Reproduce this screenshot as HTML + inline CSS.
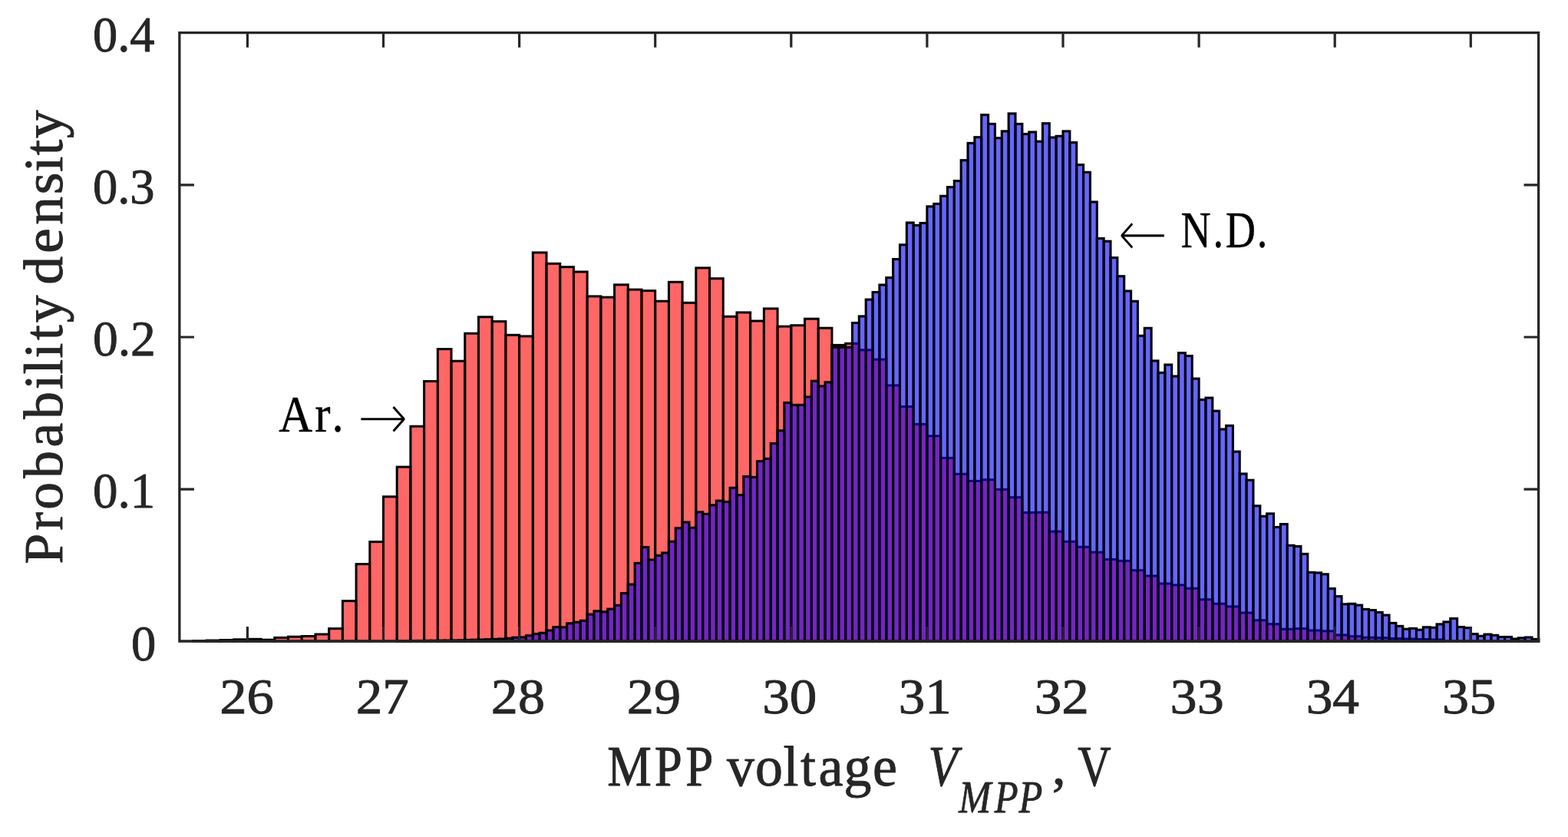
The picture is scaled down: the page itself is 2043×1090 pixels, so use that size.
<!DOCTYPE html>
<html lang="en"><head><meta charset="utf-8"><title>MPP voltage probability density histogram</title>
<style>
html,body{margin:0;padding:0;background:#fff;}
body{width:2043px;height:1090px;overflow:hidden;}
svg{display:block;}
text{font-family:"Liberation Serif",serif;stroke-linejoin:round;}
.tk,.lb,.sb{fill:#262626;stroke:#262626;}
.tk{stroke-width:0.9px;}.lb{stroke-width:0.9px;}.sb{stroke-width:0.8px;font-style:italic;}
.an{fill:#000;stroke:#000;stroke-width:0.5px;}
.ar{font-family:"DejaVu Sans",sans-serif;fill:#000;stroke:#fff;stroke-width:4.9px;stroke-linejoin:miter;}
.r rect{fill:#f00;fill-opacity:.6;stroke:#000;stroke-width:3.0;}
.b rect{fill:#00f;fill-opacity:.6;stroke:#000;stroke-width:3.1;}
.ax{fill:none;stroke:#262626;stroke-width:3.3;}
.tick{fill:none;stroke:#262626;stroke-width:3.2;}
</style></head><body>
<svg width="2043" height="1090" viewBox="0 0 2043 1090" role="img" aria-label="Histogram of MPP voltage probability density">
<rect x="0" y="0" width="2043" height="1090" fill="#fff"/>
<!-- Ar. histogram (red), bin width 0.1 V -->
<g class="r">
<rect x="251.56" y="834.5" width="17.71" height="0.5"/>
<rect x="269.27" y="834" width="17.71" height="1"/>
<rect x="286.98" y="833.5" width="17.71" height="1.5"/>
<rect x="304.69" y="832.8" width="17.71" height="2.2"/>
<rect x="322.4" y="832.3" width="17.71" height="2.7"/>
<rect x="340.11" y="833.2" width="17.71" height="1.8"/>
<rect x="357.82" y="830.4" width="17.71" height="4.6"/>
<rect x="375.53" y="829.2" width="17.71" height="5.8"/>
<rect x="393.24" y="828.5" width="17.71" height="6.5"/>
<rect x="410.95" y="826" width="17.71" height="9"/>
<rect x="428.66" y="818.6" width="17.71" height="16.4"/>
<rect x="446.37" y="782.6" width="17.71" height="52.4"/>
<rect x="464.08" y="734.6" width="17.71" height="100.4"/>
<rect x="481.79" y="705.6" width="17.71" height="129.4"/>
<rect x="499.5" y="646.8" width="17.71" height="188.2"/>
<rect x="517.21" y="608.1" width="17.71" height="226.9"/>
<rect x="534.92" y="555.2" width="17.71" height="279.8"/>
<rect x="552.63" y="496.5" width="17.71" height="338.5"/>
<rect x="570.34" y="454.6" width="17.71" height="380.4"/>
<rect x="588.05" y="470.2" width="17.71" height="364.8"/>
<rect x="605.76" y="434.2" width="17.71" height="400.8"/>
<rect x="623.47" y="412.8" width="17.71" height="422.2"/>
<rect x="641.18" y="418.6" width="17.71" height="416.4"/>
<rect x="658.89" y="436.3" width="17.71" height="398.7"/>
<rect x="676.6" y="437.9" width="17.71" height="397.1"/>
<rect x="694.31" y="328.9" width="17.71" height="506.1"/>
<rect x="712.02" y="343.3" width="17.71" height="491.7"/>
<rect x="729.73" y="347.7" width="17.71" height="487.3"/>
<rect x="747.44" y="354" width="17.71" height="481"/>
<rect x="765.15" y="385.9" width="17.71" height="449.1"/>
<rect x="782.86" y="387.1" width="17.71" height="447.9"/>
<rect x="800.57" y="370.8" width="17.71" height="464.2"/>
<rect x="818.28" y="377.1" width="17.71" height="457.9"/>
<rect x="835.99" y="378.6" width="17.71" height="456.4"/>
<rect x="853.7" y="392.2" width="17.71" height="442.8"/>
<rect x="871.41" y="367.3" width="17.71" height="467.7"/>
<rect x="889.12" y="394.3" width="17.71" height="440.7"/>
<rect x="906.83" y="348.9" width="17.71" height="486.1"/>
<rect x="924.54" y="362.7" width="17.71" height="472.3"/>
<rect x="942.25" y="412.2" width="17.71" height="422.8"/>
<rect x="959.96" y="406.9" width="17.71" height="428.1"/>
<rect x="977.67" y="418" width="17.71" height="417"/>
<rect x="995.38" y="401.9" width="17.71" height="433.1"/>
<rect x="1013.09" y="425.1" width="17.71" height="409.9"/>
<rect x="1030.8" y="423.7" width="17.71" height="411.3"/>
<rect x="1048.51" y="415.2" width="17.71" height="419.8"/>
<rect x="1066.22" y="427.2" width="17.71" height="407.8"/>
<rect x="1083.93" y="449.4" width="17.71" height="385.6"/>
<rect x="1101.64" y="447.3" width="17.71" height="387.7"/>
<rect x="1119.35" y="455.8" width="17.71" height="379.2"/>
<rect x="1137.06" y="468.1" width="17.71" height="366.9"/>
<rect x="1154.77" y="501.9" width="17.71" height="333.1"/>
<rect x="1172.48" y="529.5" width="17.71" height="305.5"/>
<rect x="1190.19" y="552.4" width="17.71" height="282.6"/>
<rect x="1207.9" y="567.8" width="17.71" height="267.2"/>
<rect x="1225.61" y="596.4" width="17.71" height="238.6"/>
<rect x="1243.32" y="617.3" width="17.71" height="217.7"/>
<rect x="1261.03" y="626.4" width="17.71" height="208.6"/>
<rect x="1278.74" y="624.7" width="17.71" height="210.3"/>
<rect x="1296.45" y="637.4" width="17.71" height="197.6"/>
<rect x="1314.16" y="647.7" width="17.71" height="187.3"/>
<rect x="1331.87" y="667.5" width="17.71" height="167.5"/>
<rect x="1349.58" y="667.3" width="17.71" height="167.7"/>
<rect x="1367.29" y="692.1" width="17.71" height="142.9"/>
<rect x="1385" y="705.3" width="17.71" height="129.7"/>
<rect x="1402.71" y="712.3" width="17.71" height="122.7"/>
<rect x="1420.42" y="719.2" width="17.71" height="115.8"/>
<rect x="1438.13" y="728.5" width="17.71" height="106.5"/>
<rect x="1455.84" y="730.4" width="17.71" height="104.6"/>
<rect x="1473.55" y="742.7" width="17.71" height="92.3"/>
<rect x="1491.26" y="750" width="17.71" height="85"/>
<rect x="1508.97" y="760" width="17.71" height="75"/>
<rect x="1526.68" y="761.9" width="17.71" height="73.1"/>
<rect x="1544.39" y="766.3" width="17.71" height="68.7"/>
<rect x="1562.1" y="780.7" width="17.71" height="54.3"/>
<rect x="1579.81" y="786.2" width="17.71" height="48.8"/>
<rect x="1597.52" y="789.9" width="17.71" height="45.1"/>
<rect x="1615.23" y="798" width="17.71" height="37"/>
<rect x="1632.94" y="807.8" width="17.71" height="27.2"/>
<rect x="1650.65" y="812.7" width="17.71" height="22.3"/>
<rect x="1668.36" y="819.3" width="17.71" height="15.7"/>
<rect x="1686.07" y="818.6" width="17.71" height="16.4"/>
<rect x="1703.78" y="821" width="17.71" height="14"/>
<rect x="1721.49" y="821.8" width="17.71" height="13.2"/>
<rect x="1739.2" y="826.9" width="17.71" height="8.1"/>
<rect x="1756.91" y="828.7" width="17.71" height="6.3"/>
<rect x="1774.62" y="830.2" width="17.71" height="4.8"/>
<rect x="1792.33" y="830.6" width="17.71" height="4.4"/>
<rect x="1810.04" y="831.5" width="17.71" height="3.5"/>
<rect x="1827.75" y="832" width="17.71" height="3"/>
<rect x="1845.46" y="832.5" width="17.71" height="2.5"/>
<rect x="1863.17" y="833" width="17.71" height="2"/>
</g>
<!-- N.D. histogram (blue), bin width 0.05 V -->
<g class="b">
<rect x="517.21" y="834.7" width="8.86" height="0.3"/>
<rect x="526.06" y="834.6" width="8.86" height="0.4"/>
<rect x="534.92" y="834.5" width="8.86" height="0.5"/>
<rect x="543.77" y="834.4" width="8.86" height="0.6"/>
<rect x="552.63" y="834.3" width="8.86" height="0.7"/>
<rect x="561.49" y="834.2" width="8.86" height="0.8"/>
<rect x="570.34" y="834.1" width="8.86" height="0.9"/>
<rect x="579.19" y="834" width="8.86" height="1"/>
<rect x="588.05" y="833.9" width="8.86" height="1.1"/>
<rect x="596.91" y="833.7" width="8.86" height="1.3"/>
<rect x="605.76" y="833.5" width="8.86" height="1.5"/>
<rect x="614.61" y="833.2" width="8.86" height="1.8"/>
<rect x="623.47" y="833" width="8.86" height="2"/>
<rect x="632.32" y="832.7" width="8.86" height="2.3"/>
<rect x="641.18" y="832.4" width="8.86" height="2.6"/>
<rect x="650.04" y="832" width="8.86" height="3"/>
<rect x="658.89" y="831.3" width="8.86" height="3.7"/>
<rect x="667.74" y="830.2" width="8.86" height="4.8"/>
<rect x="676.6" y="829.9" width="8.86" height="5.1"/>
<rect x="685.46" y="827.7" width="8.86" height="7.3"/>
<rect x="694.31" y="825.5" width="8.86" height="9.5"/>
<rect x="703.16" y="824.3" width="8.86" height="10.7"/>
<rect x="712.02" y="821" width="8.86" height="14"/>
<rect x="720.88" y="816.6" width="8.86" height="18.4"/>
<rect x="729.73" y="816.9" width="8.86" height="18.1"/>
<rect x="738.59" y="811.8" width="8.86" height="23.2"/>
<rect x="747.44" y="810.3" width="8.86" height="24.7"/>
<rect x="756.29" y="808.3" width="8.86" height="26.7"/>
<rect x="765.15" y="800.1" width="8.86" height="34.9"/>
<rect x="774.01" y="795.8" width="8.86" height="39.2"/>
<rect x="782.86" y="796.8" width="8.86" height="38.2"/>
<rect x="791.71" y="793.1" width="8.86" height="41.9"/>
<rect x="800.57" y="788.3" width="8.86" height="46.7"/>
<rect x="809.42" y="772.6" width="8.86" height="62.4"/>
<rect x="818.28" y="761.1" width="8.86" height="73.9"/>
<rect x="827.14" y="733.4" width="8.86" height="101.6"/>
<rect x="835.99" y="712.6" width="8.86" height="122.4"/>
<rect x="844.84" y="729" width="8.86" height="106"/>
<rect x="853.7" y="723.4" width="8.86" height="111.6"/>
<rect x="862.56" y="720" width="8.86" height="115"/>
<rect x="871.41" y="705.2" width="8.86" height="129.8"/>
<rect x="880.26" y="687.8" width="8.86" height="147.2"/>
<rect x="889.12" y="680.1" width="8.86" height="154.9"/>
<rect x="897.98" y="687.3" width="8.86" height="147.7"/>
<rect x="906.83" y="666.9" width="8.86" height="168.1"/>
<rect x="915.69" y="669.4" width="8.86" height="165.6"/>
<rect x="924.54" y="657.9" width="8.86" height="177.1"/>
<rect x="933.39" y="652.1" width="8.86" height="182.9"/>
<rect x="942.25" y="653.5" width="8.86" height="181.5"/>
<rect x="951.11" y="635.3" width="8.86" height="199.7"/>
<rect x="959.96" y="644.7" width="8.86" height="190.3"/>
<rect x="968.81" y="620.6" width="8.86" height="214.4"/>
<rect x="977.67" y="621.4" width="8.86" height="213.6"/>
<rect x="986.52" y="600.7" width="8.86" height="234.3"/>
<rect x="995.38" y="597.4" width="8.86" height="237.6"/>
<rect x="1004.24" y="577.5" width="8.86" height="257.5"/>
<rect x="1013.09" y="560.8" width="8.86" height="274.2"/>
<rect x="1021.94" y="524.4" width="8.86" height="310.6"/>
<rect x="1030.8" y="527.4" width="8.86" height="307.6"/>
<rect x="1039.65" y="527.4" width="8.86" height="307.6"/>
<rect x="1048.51" y="516.9" width="8.86" height="318.1"/>
<rect x="1057.36" y="496.2" width="8.86" height="338.8"/>
<rect x="1066.22" y="502.9" width="8.86" height="332.1"/>
<rect x="1075.08" y="497.8" width="8.86" height="337.2"/>
<rect x="1083.93" y="452.3" width="8.86" height="382.7"/>
<rect x="1092.79" y="452.3" width="8.86" height="382.7"/>
<rect x="1101.64" y="452.3" width="8.86" height="382.7"/>
<rect x="1110.49" y="420.5" width="8.86" height="414.5"/>
<rect x="1119.35" y="411.9" width="8.86" height="423.1"/>
<rect x="1128.21" y="390.1" width="8.86" height="444.9"/>
<rect x="1137.06" y="380.5" width="8.86" height="454.5"/>
<rect x="1145.91" y="371" width="8.86" height="464"/>
<rect x="1154.77" y="361.6" width="8.86" height="473.4"/>
<rect x="1163.62" y="337.5" width="8.86" height="497.5"/>
<rect x="1172.48" y="318.8" width="8.86" height="516.2"/>
<rect x="1181.34" y="290" width="8.86" height="545"/>
<rect x="1190.19" y="293.4" width="8.86" height="541.6"/>
<rect x="1199.04" y="290.5" width="8.86" height="544.5"/>
<rect x="1207.9" y="268.9" width="8.86" height="566.1"/>
<rect x="1216.76" y="265.4" width="8.86" height="569.6"/>
<rect x="1225.61" y="255.3" width="8.86" height="579.7"/>
<rect x="1234.46" y="243.7" width="8.86" height="591.3"/>
<rect x="1243.32" y="235.6" width="8.86" height="599.4"/>
<rect x="1252.17" y="208.7" width="8.86" height="626.3"/>
<rect x="1261.03" y="186.4" width="8.86" height="648.6"/>
<rect x="1269.89" y="178.7" width="8.86" height="656.3"/>
<rect x="1278.74" y="149.6" width="8.86" height="685.4"/>
<rect x="1287.59" y="161.4" width="8.86" height="673.6"/>
<rect x="1296.45" y="179.8" width="8.86" height="655.2"/>
<rect x="1305.31" y="170.9" width="8.86" height="664.1"/>
<rect x="1314.16" y="147.9" width="8.86" height="687.1"/>
<rect x="1323.01" y="161.4" width="8.86" height="673.6"/>
<rect x="1331.87" y="174.6" width="8.86" height="660.4"/>
<rect x="1340.72" y="172" width="8.86" height="663"/>
<rect x="1349.58" y="184.2" width="8.86" height="650.8"/>
<rect x="1358.44" y="160.7" width="8.86" height="674.3"/>
<rect x="1367.29" y="179" width="8.86" height="656"/>
<rect x="1376.14" y="177.3" width="8.86" height="657.7"/>
<rect x="1385" y="170.9" width="8.86" height="664.1"/>
<rect x="1393.85" y="185.6" width="8.86" height="649.4"/>
<rect x="1402.71" y="214.6" width="8.86" height="620.4"/>
<rect x="1411.56" y="224.3" width="8.86" height="610.7"/>
<rect x="1420.42" y="263" width="8.86" height="572"/>
<rect x="1429.27" y="310.5" width="8.86" height="524.5"/>
<rect x="1438.13" y="314.2" width="8.86" height="520.8"/>
<rect x="1446.99" y="335.6" width="8.86" height="499.4"/>
<rect x="1455.84" y="359.7" width="8.86" height="475.3"/>
<rect x="1464.7" y="379" width="8.86" height="456"/>
<rect x="1473.55" y="392.3" width="8.86" height="442.7"/>
<rect x="1482.4" y="437.3" width="8.86" height="397.7"/>
<rect x="1491.26" y="427.3" width="8.86" height="407.7"/>
<rect x="1500.11" y="469.9" width="8.86" height="365.1"/>
<rect x="1508.97" y="485.3" width="8.86" height="349.7"/>
<rect x="1517.82" y="475" width="8.86" height="360"/>
<rect x="1526.68" y="490" width="8.86" height="345"/>
<rect x="1535.54" y="459.6" width="8.86" height="375.4"/>
<rect x="1544.39" y="463.5" width="8.86" height="371.5"/>
<rect x="1553.25" y="493.1" width="8.86" height="341.9"/>
<rect x="1562.1" y="520.5" width="8.86" height="314.5"/>
<rect x="1570.95" y="518.1" width="8.86" height="316.9"/>
<rect x="1579.81" y="535.2" width="8.86" height="299.8"/>
<rect x="1588.66" y="559" width="8.86" height="276"/>
<rect x="1597.52" y="554.3" width="8.86" height="280.7"/>
<rect x="1606.37" y="588.1" width="8.86" height="246.9"/>
<rect x="1615.23" y="617" width="8.86" height="218"/>
<rect x="1624.09" y="625.3" width="8.86" height="209.7"/>
<rect x="1632.94" y="658.8" width="8.86" height="176.2"/>
<rect x="1641.8" y="672.3" width="8.86" height="162.7"/>
<rect x="1650.65" y="668.9" width="8.86" height="166.1"/>
<rect x="1659.5" y="686.5" width="8.86" height="148.5"/>
<rect x="1668.36" y="682.6" width="8.86" height="152.4"/>
<rect x="1677.21" y="710.3" width="8.86" height="124.7"/>
<rect x="1686.07" y="711.5" width="8.86" height="123.5"/>
<rect x="1694.92" y="721.4" width="8.86" height="113.6"/>
<rect x="1703.78" y="745.4" width="8.86" height="89.6"/>
<rect x="1712.64" y="745.9" width="8.86" height="89.1"/>
<rect x="1721.49" y="747.8" width="8.86" height="87.2"/>
<rect x="1730.35" y="766.5" width="8.86" height="68.5"/>
<rect x="1739.2" y="776.6" width="8.86" height="58.4"/>
<rect x="1748.05" y="786.8" width="8.86" height="48.2"/>
<rect x="1756.91" y="786.3" width="8.86" height="48.7"/>
<rect x="1765.76" y="788.1" width="8.86" height="46.9"/>
<rect x="1774.62" y="793.4" width="8.86" height="41.6"/>
<rect x="1783.47" y="794.6" width="8.86" height="40.4"/>
<rect x="1792.33" y="797.4" width="8.86" height="37.6"/>
<rect x="1801.19" y="801.1" width="8.86" height="33.9"/>
<rect x="1810.04" y="811.4" width="8.86" height="23.6"/>
<rect x="1818.9" y="815.4" width="8.86" height="19.6"/>
<rect x="1827.75" y="819.2" width="8.86" height="15.8"/>
<rect x="1836.6" y="818.4" width="8.86" height="16.6"/>
<rect x="1845.46" y="820.2" width="8.86" height="14.8"/>
<rect x="1854.31" y="816.8" width="8.86" height="18.2"/>
<rect x="1863.17" y="817.3" width="8.86" height="17.7"/>
<rect x="1872.02" y="812.9" width="8.86" height="22.1"/>
<rect x="1880.88" y="809.9" width="8.86" height="25.1"/>
<rect x="1889.74" y="805.5" width="8.86" height="29.5"/>
<rect x="1898.59" y="816.5" width="8.86" height="18.5"/>
<rect x="1907.45" y="817.6" width="8.86" height="17.4"/>
<rect x="1916.3" y="825.6" width="8.86" height="9.4"/>
<rect x="1925.15" y="828.3" width="8.86" height="6.7"/>
<rect x="1934.01" y="826.1" width="8.86" height="8.9"/>
<rect x="1942.86" y="827.3" width="8.86" height="7.7"/>
<rect x="1951.72" y="829.5" width="8.86" height="5.5"/>
<rect x="1960.57" y="829.5" width="8.86" height="5.5"/>
<rect x="1969.43" y="832" width="8.86" height="3"/>
<rect x="1978.29" y="830.8" width="8.86" height="4.2"/>
<rect x="1987.14" y="830" width="8.86" height="5"/>
<rect x="1996" y="832.4" width="8.86" height="2.6"/>
</g>
<!-- overlap tint (Ar. and N.D. overlap region) -->
<path d="M678.1 831.4h5.8V833.4h-5.8zM687 829.2h5.8V833.4h-5.8zM695.9 827h5.8V833.4h-5.8zM704.7 825.8h5.8V833.4h-5.8zM713.6 822.5h5.8V833.4h-5.8zM722.4 818.1h5.8V833.4h-5.8zM731.3 818.4h5.8V833.4h-5.8zM740.1 813.3h5.8V833.4h-5.8zM749 811.8h5.8V833.4h-5.8zM757.8 809.8h5.8V833.4h-5.8zM766.7 801.6h5.8V833.4h-5.8zM775.6 797.3h5.8V833.4h-5.8zM784.4 798.3h5.8V833.4h-5.8zM793.3 794.6h5.8V833.4h-5.8zM802.1 789.8h5.8V833.4h-5.8zM811 774.1h5.8V833.4h-5.8zM819.8 762.6h5.8V833.4h-5.8zM828.7 734.9h5.8V833.4h-5.8zM837.5 714.1h5.8V833.4h-5.8zM846.4 730.5h5.8V833.4h-5.8zM855.2 724.9h5.8V833.4h-5.8zM864.1 721.5h5.8V833.4h-5.8zM873 706.7h5.8V833.4h-5.8zM881.8 689.3h5.8V833.4h-5.8zM890.7 681.6h5.8V833.4h-5.8zM899.5 688.8h5.8V833.4h-5.8zM908.4 668.4h5.8V833.4h-5.8zM917.2 670.9h5.8V833.4h-5.8zM926.1 659.4h5.8V833.4h-5.8zM934.9 653.6h5.8V833.4h-5.8zM943.8 655h5.8V833.4h-5.8zM952.7 636.8h5.8V833.4h-5.8zM961.5 646.2h5.8V833.4h-5.8zM970.4 622.1h5.8V833.4h-5.8zM979.2 622.9h5.8V833.4h-5.8zM988.1 602.2h5.8V833.4h-5.8zM996.9 598.9h5.8V833.4h-5.8zM1005.8 579h5.8V833.4h-5.8zM1014.6 562.3h5.8V833.4h-5.8zM1023.5 525.9h5.8V833.4h-5.8zM1032.3 528.9h5.8V833.4h-5.8zM1041.2 528.9h5.8V833.4h-5.8zM1050.1 518.4h5.8V833.4h-5.8zM1058.9 497.7h5.8V833.4h-5.8zM1067.8 504.4h5.8V833.4h-5.8zM1076.6 499.3h5.8V833.4h-5.8zM1085.5 453.8h5.8V833.4h-5.8zM1094.3 453.8h5.8V833.4h-5.8zM1103.2 453.8h5.8V833.4h-5.8zM1112 448.8h5.8V833.4h-5.8zM1120.9 457.3h5.8V833.4h-5.8zM1129.8 457.3h5.8V833.4h-5.8zM1138.6 469.6h5.8V833.4h-5.8zM1147.5 469.6h5.8V833.4h-5.8zM1156.3 503.4h5.8V833.4h-5.8zM1165.2 503.4h5.8V833.4h-5.8zM1174 531h5.8V833.4h-5.8zM1182.9 531h5.8V833.4h-5.8zM1191.7 553.9h5.8V833.4h-5.8zM1200.6 553.9h5.8V833.4h-5.8zM1209.4 569.3h5.8V833.4h-5.8zM1218.3 569.3h5.8V833.4h-5.8zM1227.2 597.9h5.8V833.4h-5.8zM1236 597.9h5.8V833.4h-5.8zM1244.9 618.8h5.8V833.4h-5.8zM1253.7 618.8h5.8V833.4h-5.8zM1262.6 627.9h5.8V833.4h-5.8zM1271.4 627.9h5.8V833.4h-5.8zM1280.3 626.2h5.8V833.4h-5.8zM1289.1 626.2h5.8V833.4h-5.8zM1298 638.9h5.8V833.4h-5.8zM1306.9 638.9h5.8V833.4h-5.8zM1315.7 649.2h5.8V833.4h-5.8zM1324.6 649.2h5.8V833.4h-5.8zM1333.4 669h5.8V833.4h-5.8zM1342.3 669h5.8V833.4h-5.8zM1351.1 668.8h5.8V833.4h-5.8zM1360 668.8h5.8V833.4h-5.8zM1368.8 693.6h5.8V833.4h-5.8zM1377.7 693.6h5.8V833.4h-5.8zM1386.5 706.8h5.8V833.4h-5.8zM1395.4 706.8h5.8V833.4h-5.8zM1404.3 713.8h5.8V833.4h-5.8zM1413.1 713.8h5.8V833.4h-5.8zM1422 720.7h5.8V833.4h-5.8zM1430.8 720.7h5.8V833.4h-5.8zM1439.7 730h5.8V833.4h-5.8zM1448.5 730h5.8V833.4h-5.8zM1457.4 731.9h5.8V833.4h-5.8zM1466.2 731.9h5.8V833.4h-5.8zM1475.1 744.2h5.8V833.4h-5.8zM1484 744.2h5.8V833.4h-5.8zM1492.8 751.5h5.8V833.4h-5.8zM1501.7 751.5h5.8V833.4h-5.8zM1510.5 761.5h5.8V833.4h-5.8zM1519.4 761.5h5.8V833.4h-5.8zM1528.2 763.4h5.8V833.4h-5.8zM1537.1 763.4h5.8V833.4h-5.8zM1545.9 767.8h5.8V833.4h-5.8zM1554.8 767.8h5.8V833.4h-5.8zM1563.6 782.2h5.8V833.4h-5.8zM1572.5 782.2h5.8V833.4h-5.8zM1581.4 787.7h5.8V833.4h-5.8zM1590.2 787.7h5.8V833.4h-5.8zM1599.1 791.4h5.8V833.4h-5.8zM1607.9 791.4h5.8V833.4h-5.8zM1616.8 799.5h5.8V833.4h-5.8zM1625.6 799.5h5.8V833.4h-5.8zM1634.5 809.3h5.8V833.4h-5.8zM1643.3 809.3h5.8V833.4h-5.8zM1652.2 814.2h5.8V833.4h-5.8zM1661.1 814.2h5.8V833.4h-5.8zM1669.9 820.8h5.8V833.4h-5.8zM1678.8 820.8h5.8V833.4h-5.8zM1687.6 820.1h5.8V833.4h-5.8zM1696.5 820.1h5.8V833.4h-5.8zM1705.3 822.5h5.8V833.4h-5.8zM1714.2 822.5h5.8V833.4h-5.8zM1723 823.3h5.8V833.4h-5.8zM1731.9 823.3h5.8V833.4h-5.8zM1740.7 828.4h5.8V833.4h-5.8zM1749.6 828.4h5.8V833.4h-5.8zM1758.5 830.2h5.8V833.4h-5.8zM1767.3 830.2h5.8V833.4h-5.8z" fill="#ff00c8" fill-opacity=".085"/>
<!-- axes box and ticks -->
<g>
<path class="ax" d="M233.85 42.6H2004.6V835H233.85z"/>
<path class="tick" d="M322.4 835v-19.1M322.4 42.6v19.1M499.5 835v-19.1M499.5 42.6v19.1M676.6 835v-19.1M676.6 42.6v19.1M853.7 835v-19.1M853.7 42.6v19.1M1030.8 835v-19.1M1030.8 42.6v19.1M1207.9 835v-19.1M1207.9 42.6v19.1M1385 835v-19.1M1385 42.6v19.1M1562.1 835v-19.1M1562.1 42.6v19.1M1739.2 835v-19.1M1739.2 42.6v19.1M1916.3 835v-19.1M1916.3 42.6v19.1M233.85 637.1h19.1M2004.6 637.1h-19.1M233.85 439h19.1M2004.6 439h-19.1M233.85 240.9h19.1M2004.6 240.9h-19.1"/>
</g>
<!-- y axis label -->
<g>
<text class="lb" transform="translate(80.7 0) rotate(-90) scale(0.9886 1)" style="font-size:72.3px" x="-743 -698.6 -671.4 -630 -589.1 -552.1 -513.1 -493.2 -472 -448.1 -425">Probability</text>
<text class="lb" transform="translate(80.7 0) rotate(-90) scale(1.0208 1)" style="font-size:72.3px" x="-363.3 -323.3 -286.9 -248 -219.5 -198.2 -176.6">density</text>
</g>
<!-- y tick labels -->
<g>
<text class="tk" transform="translate(120.96 67.1) scale(0.9677 1)" style="font-size:66.5px">0.4</text>
<text class="tk" transform="translate(120.96 265.2) scale(0.9709 1)" style="font-size:66.5px">0.3</text>
<text class="tk" transform="translate(120.93 463.3) scale(0.9859 1)" style="font-size:66.5px">0.2</text>
<text class="tk" transform="translate(120.95 661.4) scale(0.9768 1)" style="font-size:66.5px">0.1</text>
<text class="tk" transform="translate(171.06 859.5) scale(0.9709 1)" style="font-size:66.5px">0</text>
</g>
<!-- x tick labels -->
<g>
<text class="tk" transform="translate(286.24 928.9) scale(1.064 1)" style="font-size:66.5px">26</text>
<text class="tk" transform="translate(463.7 928.9) scale(1.0384 1)" style="font-size:66.5px">27</text>
<text class="tk" transform="translate(639.86 928.9) scale(1.0548 1)" style="font-size:66.5px">28</text>
<text class="tk" transform="translate(816.86 928.9) scale(1.0575 1)" style="font-size:66.5px">29</text>
<text class="tk" transform="translate(993.26 928.9) scale(1.0704 1)" style="font-size:66.5px">30</text>
<text class="tk" transform="translate(1170.75 928.9) scale(1.0357 1)" style="font-size:66.5px">31</text>
<text class="tk" transform="translate(1347.65 928.9) scale(1.0711 1)" style="font-size:66.5px">32</text>
<text class="tk" transform="translate(1524.6 928.9) scale(1.0553 1)" style="font-size:66.5px">33</text>
<text class="tk" transform="translate(1701.63 928.9) scale(1.0451 1)" style="font-size:66.5px">34</text>
<text class="tk" transform="translate(1879.1 928.9) scale(1.0537 1)" style="font-size:66.5px">35</text>
</g>
<!-- x axis label -->
<g>
<text class="lb" transform="translate(0 1022.6) scale(0.8812 1)" style="font-size:73.6px" x="898 967.7 1013.8">MPP</text>
<text class="lb" transform="translate(0 1022.6) scale(0.9774 1)" style="font-size:73.6px" x="969 1006.8 1044.2 1067.2 1091.2 1124.9 1163.3">voltage</text>
<text class="lb" transform="translate(1209.43 1022.6) scale(0.849 1)" style="font-size:73.6px;font-style:italic">V</text>
<text class="sb" transform="translate(0 1057.7) scale(0.8605 1)" style="font-size:58.6px" x="1451.8 1505.8 1542.8">MPP</text>
<text class="lb" transform="translate(1370.81 1021.13) scale(0.975 0.9418)" style="font-size:73.6px">,</text>
<text class="lb" transform="translate(1404.29 1022.6) scale(0.8172 1)" style="font-size:73.6px">V</text>
</g>
<!-- annotations -->
<g>
<text class="an" transform="translate(0 561.5) scale(0.899 1)" style="font-size:67.6px" x="404 456.4 481.1">Ar.</text>
<text class="ar" transform="translate(463.59 575.19) scale(0.8381 0.9399)" style="font-size:100px">→</text>
</g>
<g>
<text class="ar" transform="translate(1454.22 336.14) scale(0.8248 0.9287)" style="font-size:100px">←</text>
<text class="an" transform="translate(0 322.2) scale(0.8019 1)" style="font-size:67.6px" x="1918.6 1970.9 1991.1 2042.3">N.D.</text>
</g>
</svg>
</body></html>
